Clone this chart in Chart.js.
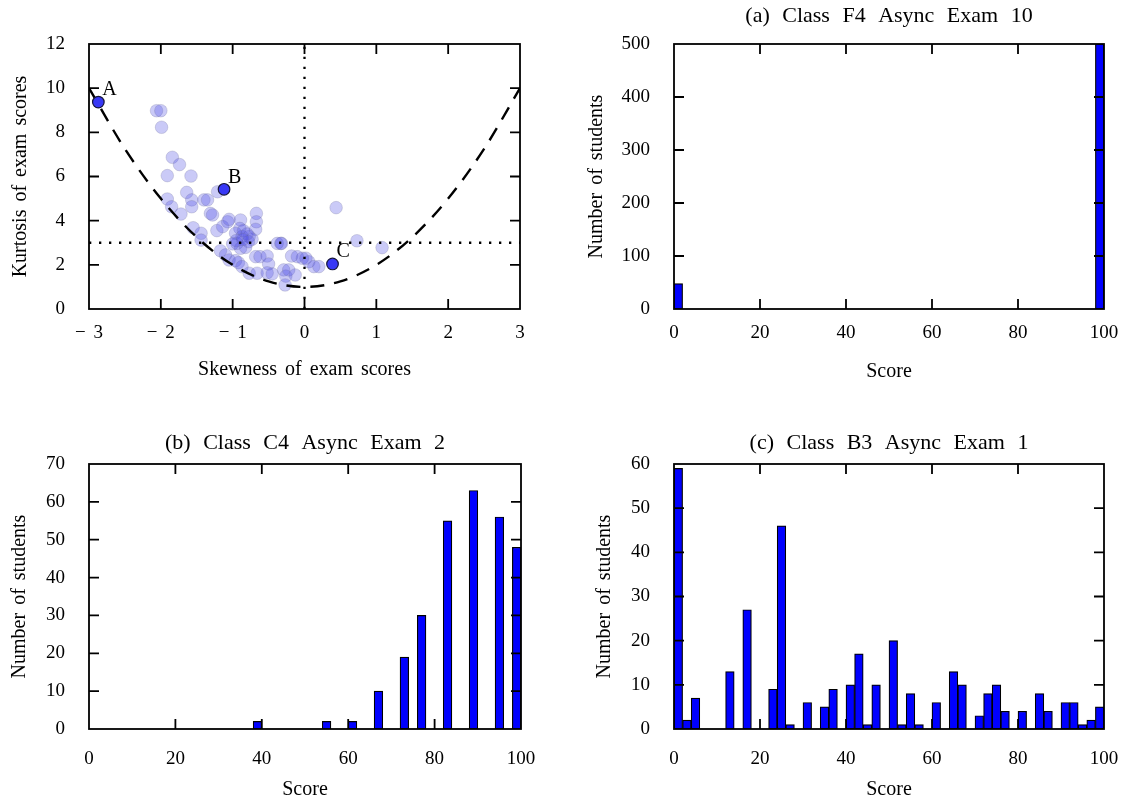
<!DOCTYPE html>
<html>
<head>
<meta charset="utf-8">
<script src="https://cdn.jsdelivr.net/npm/chart.js@4.4.1/dist/chart.umd.min.js"></script>
<style>
  html, body { margin: 0; padding: 0; background: #fff; overflow: hidden; }
  canvas { position: absolute; }
</style>
</head>
<body>
<canvas id="scatterMoments" width="540" height="400" style="left:0;top:0"></canvas>
<canvas id="histF4" width="563" height="400" style="left:560px;top:0"></canvas>
<canvas id="histC4" width="540" height="380" style="left:0;top:420px"></canvas>
<canvas id="histB3" width="563" height="380" style="left:560px;top:420px"></canvas>
<script>
// skewness / kurtosis of every exam (light dots)
const skewness = [-2.06, -2.00, -1.99, -1.84, -1.74, -1.91, -1.58, -1.91, -1.85, -1.64,
  -1.57, -1.57, -1.72, -1.40, -1.35, -1.21, -1.31, -1.28, -1.55, -1.44,
  -1.44, -1.22, -1.14, -1.07, -1.05, -0.89, -0.90, -0.67, -0.67, -0.68,
  -0.96, -0.87, -0.77, -0.73, -0.94, -0.89, -0.82, -1.17, -1.10, -1.05,
  -0.96, -0.92, -0.87, -0.77, -0.66, -0.68, -0.62, -0.52, -0.50, -0.52,
  -0.45, -0.38, -0.32, -0.29, -0.26, -0.22, -0.13, -0.18, -0.10, -0.03,
  -0.27, 0.06, 0.13, 0.20, 0.44, 0.73, 1.08, 0.02, -0.85, -0.80,
  -0.95, -0.78, -0.86, -1.00, -0.33];
const kurtosis = [8.98, 8.98, 8.23, 6.87, 6.54, 6.04, 6.02, 4.98, 4.63, 5.28,
  4.94, 4.63, 4.30, 4.94, 4.94, 5.31, 4.33, 4.26, 3.68, 3.43,
  3.12, 3.55, 3.73, 3.95, 4.06, 4.03, 3.65, 4.33, 3.95, 3.61,
  3.43, 3.28, 3.28, 3.16, 2.97, 2.75, 2.79, 2.64, 2.45, 2.22,
  2.19, 2.10, 1.92, 1.62, 1.62, 2.37, 2.37, 2.40, 2.04, 1.64,
  1.59, 2.97, 2.97, 1.77, 1.49, 1.77, 1.54, 2.40, 2.37, 2.30,
  1.09, 2.14, 1.92, 1.92, 4.59, 3.09, 2.78, 2.30, 3.55, 3.40,
  3.10, 3.05, 3.15, 2.95, 2.97];

// the three exams shown as histograms
const markedNames = ['A', 'B', 'C'];
const markedSkew = [-2.87, -1.12, 0.39];
const markedKurt = [9.37, 5.42, 2.04];

// lower bound kurtosis = skewness^2 + 1
const boundSkew = [-3, -2.5, -2, -1.5, -1, -0.5, 0, 0.5, 1, 1.5, 2, 2.5, 3];
const boundKurt = [10, 7.25, 5, 3.25, 2, 1.25, 1, 1.25, 2, 3.25, 5, 7.25, 10];

// reference lines (normal distribution: skew 0, kurtosis 3)
const refVertical = [[0, 0], [0, 12]];
const refHorizontal = [[-3, 3], [3, 3]];

// histogram bins (lower edge, width 2)
const binEdges = [0, 2, 4, 6, 8, 10, 12, 14, 16, 18, 20, 22, 24, 26, 28, 30, 32, 34, 36, 38,
  40, 42, 44, 46, 48, 50, 52, 54, 56, 58, 60, 62, 64, 66, 68, 70, 72, 74, 76, 78,
  80, 82, 84, 86, 88, 90, 92, 94, 96, 98];
const binWidth = 2;

const countsF4 = [48, 0, 0, 0, 0, 0, 0, 0, 0, 0, 0, 0, 0, 0, 0, 0, 0, 0, 0, 0,
  0, 0, 0, 0, 0, 0, 0, 0, 0, 0, 0, 0, 0, 0, 0, 0, 0, 0, 0, 0,
  0, 0, 0, 0, 0, 0, 0, 0, 0, 500];
const countsC4 = [0, 0, 0, 0, 0, 0, 0, 0, 0, 0, 0, 0, 0, 0, 0, 0, 0, 0, 0, 2,
  0, 0, 0, 0, 0, 0, 0, 2, 0, 0, 2, 0, 0, 10, 0, 0, 19, 0, 30, 0,
  0, 55, 0, 0, 63, 0, 0, 56, 0, 48];
const countsB3 = [59, 2, 7, 0, 0, 0, 13, 0, 27, 0, 0, 9, 46, 1, 0, 6, 0, 5, 9, 0,
  10, 17, 1, 10, 0, 20, 1, 8, 1, 0, 6, 0, 13, 10, 0, 3, 8, 10, 4, 0,
  4, 0, 8, 4, 0, 6, 6, 1, 2, 5];

Chart.defaults.font.family = "'Liberation Serif', 'Times New Roman', serif";
Chart.defaults.color = '#000';
Chart.defaults.animation = false;

const tickFont = { size: 19 };
const titleFont = { size: 20, lineHeight: 1 };

// LaTeX-like wide word spaces
const wideSpaces = {
  id: 'wideSpaces',
  beforeDraw(chart) { chart.ctx.wordSpacing = '3px'; }
};

// inward tick marks on all four sides plus the frame
const frameTicks = {
  id: 'frameTicks',
  afterDatasetsDraw(chart) {
    const { ctx, chartArea: a, scales } = chart;
    const len = 10;
    ctx.save();
    ctx.strokeStyle = '#000';
    ctx.lineWidth = 1.8;
    ctx.beginPath();
    scales.x.ticks.forEach(t => {
      const px = scales.x.getPixelForValue(t.value);
      if (px <= a.left + 1 || px >= a.right - 1) return;
      ctx.moveTo(px, a.bottom); ctx.lineTo(px, a.bottom - len);
      ctx.moveTo(px, a.top); ctx.lineTo(px, a.top + len);
    });
    scales.y.ticks.forEach(t => {
      const py = scales.y.getPixelForValue(t.value);
      if (py <= a.top + 1 || py >= a.bottom - 1) return;
      ctx.moveTo(a.left, py); ctx.lineTo(a.left + len, py);
      ctx.moveTo(a.right, py); ctx.lineTo(a.right - len, py);
    });
    ctx.stroke();
    ctx.strokeRect(a.left, a.top, a.right - a.left, a.bottom - a.top);
    ctx.restore();
  }
};

// panel title centred over the plot area
const panelTitle = {
  id: 'panelTitle',
  afterDraw(chart, args, opts) {
    if (!opts.text) return;
    const { ctx, chartArea: a } = chart;
    ctx.save();
    ctx.font = "22px 'Liberation Serif', serif";
    ctx.wordSpacing = '7px';
    ctx.fillStyle = '#000';
    ctx.textAlign = 'center';
    ctx.textBaseline = 'middle';
    ctx.fillText(opts.text, (a.left + a.right) / 2, a.top - opts.gap);
    ctx.restore();
  }
};

// A, B, C next to the marked exams
const pointNames = {
  id: 'pointNames',
  afterDatasetsDraw(chart) {
    const { ctx, scales: { x, y } } = chart;
    ctx.save();
    ctx.font = "20px 'Liberation Serif', serif";
    ctx.fillStyle = '#000';
    ctx.textAlign = 'left';
    ctx.textBaseline = 'middle';
    markedNames.forEach((n, i) => {
      ctx.fillText(n, x.getPixelForValue(markedSkew[i]) + 4, y.getPixelForValue(markedKurt[i]) - 12);
    });
    ctx.restore();
  }
};

function axisX(min, max, step, title, pad, height, titlePad, fmt) {
  return {
    type: 'linear', min, max, offset: false,
    afterFit: s => { s.height = height; s.paddingLeft = 0; s.paddingRight = 0; },
    grid: { display: false, drawTicks: false },
    border: { display: false },
    ticks: { stepSize: step, font: tickFont, padding: pad, maxRotation: 0, autoSkip: false,
      callback: fmt || (v => v) },
    title: { display: true, text: title, font: titleFont, padding: { top: 0, bottom: titlePad } }
  };
}

function axisY(max, step, title, width, titlePad) {
  return {
    type: 'linear', min: 0, max,
    afterFit: s => { s.width = width; s.paddingTop = 0; s.paddingBottom = 0; },
    grid: { display: false, drawTicks: false },
    border: { display: false },
    ticks: { stepSize: step, font: tickFont, padding: 24 },
    title: { display: true, text: title, font: titleFont, padding: { top: titlePad, bottom: 0 } }
  };
}

new Chart(document.getElementById('scatterMoments'), {
  type: 'scatter',
  data: {
    datasets: [
      {
        data: markedSkew.map((s, i) => ({ x: s, y: markedKurt[i] })),
        backgroundColor: '#3838f5', borderColor: '#15153a', borderWidth: 1.2,
        pointRadius: 5.8, order: 0
      },
      {
        data: boundSkew.map((s, i) => ({ x: s, y: boundKurt[i] })),
        showLine: true, pointRadius: 0, borderColor: '#000', borderWidth: 2.4,
        borderDash: [14, 10], cubicInterpolationMode: 'monotone', order: 1
      },
      {
        data: refVertical.map(p => ({ x: p[0], y: p[1] })),
        showLine: true, pointRadius: 0, borderColor: '#000', borderWidth: 2.3,
        borderDash: [2.3, 7.7], order: 1
      },
      {
        data: refHorizontal.map(p => ({ x: p[0], y: p[1] })),
        showLine: true, pointRadius: 0, borderColor: '#000', borderWidth: 2.3,
        borderDash: [2.3, 7.7], order: 1
      },
      {
        data: skewness.map((s, i) => ({ x: s, y: kurtosis[i] })),
        backgroundColor: 'rgba(80, 80, 230, 0.3)', borderColor: 'rgba(110, 110, 150, 0.25)',
        borderWidth: 1, pointRadius: 6.3, order: 2
      }
    ]
  },
  options: {
    responsive: false,
    layout: { padding: { top: 44, right: 20, left: 0, bottom: 0 } },
    plugins: { legend: { display: false }, tooltip: { enabled: false } },
    scales: {
      x: axisX(-3, 3, 1, 'Skewness of exam scores', 13, 91, 20,
        v => (v < 0 ? '\u2212 ' + Math.abs(v) : String(v))),
      y: axisY(12, 2, 'Kurtosis of exam scores', 89, 11)
    }
  },
  plugins: [wideSpaces, frameTicks, pointNames]
});

function histogram(id, counts, yMax, yStep, name, yTitleWidth, yTitlePad, xPad, xHeight, xTitlePad, gap) {
  new Chart(document.getElementById(id), {
    type: 'bar',
    data: {
      datasets: [{
        data: binEdges.map((b, i) => ({ x: b + binWidth / 2, y: counts[i] || null })),
        backgroundColor: '#0000ff', borderColor: '#000', borderWidth: 1.2,
        borderSkipped: false, barPercentage: 1, categoryPercentage: 1
      }]
    },
    options: {
      responsive: false,
      layout: { padding: { top: 44, right: 19, left: 0, bottom: 0 } },
      plugins: {
        legend: { display: false }, tooltip: { enabled: false },
        panelTitle: { text: name, gap }
      },
      scales: {
        x: axisX(0, 100, 20, 'Score', xPad, xHeight, xTitlePad),
        y: axisY(yMax, yStep, 'Number of students', yTitleWidth, yTitlePad)
      }
    },
    plugins: [wideSpaces, frameTicks, panelTitle]
  });
}

histogram('histF4', countsF4, 500, 100, '(a) Class F4 Async Exam 10', 114, 27, 13, 91, 18, 28);
histogram('histC4', countsC4, 70, 10, '(b) Class C4 Async Exam 2', 89, 10, 19, 71, 0, 21);
histogram('histB3', countsB3, 60, 10, '(c) Class B3 Async Exam 1', 114, 35, 19, 71, 0, 21);
</script>
</body>
</html>
